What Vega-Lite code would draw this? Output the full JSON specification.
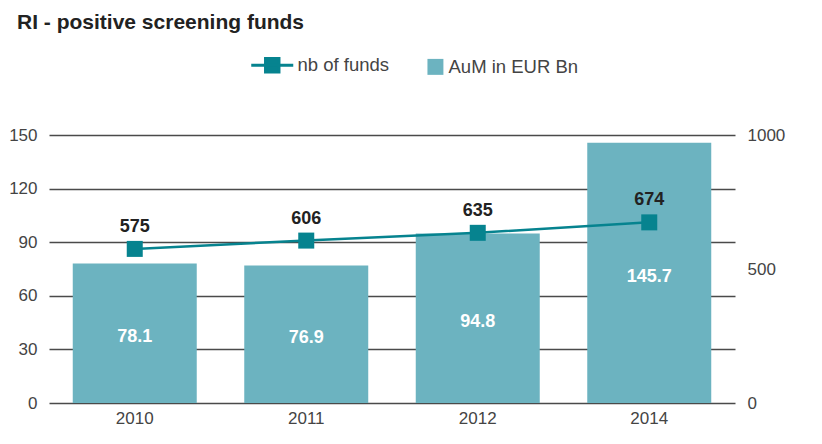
{
  "$schema": "https://vega.github.io/schema/vega-lite/v6.json",
  "autosize": "none",
  "width": 686,
  "height": 268,
  "padding": {"left": 49, "top": 135, "right": 87, "bottom": 41},
  "title": {"text": "RI - positive screening funds", "anchor": "start", "frame": "group", "dx": -32, "offset": 23, "fontSize": 21, "fontWeight": "bold", "font": "Liberation Sans", "color": "#222"},
  "config": {
    "view": {"stroke": null},
    "font": "Liberation Sans",
    "axis": {"labelFont": "Liberation Sans", "labelFontSize": 17, "labelColor": "#444", "ticks": false, "domain": false, "title": null}
  },
  "data": {"values": [
    {"year": "2010", "aum": 78.1, "funds": 575},
    {"year": "2011", "aum": 76.9, "funds": 606},
    {"year": "2012", "aum": 94.8, "funds": 635},
    {"year": "2014", "aum": 145.7, "funds": 674}
  ]},
  "encoding": {
    "x": {"field": "year", "type": "nominal", "scale": {"paddingInner": 0.277, "paddingOuter": 0.1385}, "axis": {"labelAngle": 0, "labelPadding": 7, "grid": false}}
  },
  "layer": [
    {
      "mark": {"type": "bar"},
      "encoding": {
        "y": {"field": "aum", "type": "quantitative", "scale": {"domain": [0, 150]}, "axis": {"values": [0, 30, 60, 90, 120, 150], "grid": true, "gridColor": "#4a4a4a", "gridWidth": 1.5, "labelPadding": 12}},
        "color": {"datum": "AuM in EUR Bn", "type": "nominal", "scale": {"domain": ["nb of funds", "AuM in EUR Bn"], "range": ["#06838f", "#6cb3c0"]},
          "legend": {"title": null, "orient": "none", "legendX": 214, "legendY": -79, "direction": "horizontal", "symbolSize": 1764, "labelFontSize": 18.5, "labelColor": "#444", "labelFont": "Liberation Sans", "labelOffset": 16, "columnPadding": 24,
            "encode": {"symbols": {"update": {
              "shape": {"signal": "datum.value === 'nb of funds' ? 'M-1,0H1M-0.32,-0.32H0.32V0.32H-0.32Z' : 'M0.2,-0.38H0.96V0.38H0.2Z'"},
              "fill": {"signal": "datum.value === 'nb of funds' ? '#06838f' : '#6cb3c0'"},
              "stroke": {"signal": "datum.value === 'nb of funds' ? '#06838f' : '#6cb3c0'"},
              "strokeWidth": {"signal": "datum.value === 'nb of funds' ? 3 : 0"},
              "opacity": {"value": 1},
              "fillOpacity": {"value": 1}
            }}}}}
      }
    },
    {
      "mark": {"type": "text", "color": "white", "fontWeight": "bold", "fontSize": 18, "baseline": "middle", "dy": 4},
      "encoding": {
        "y": {"field": "aum", "type": "quantitative", "scale": {"domain": [0, 300]}, "axis": null},
        "text": {"field": "aum", "type": "quantitative", "format": ".1f"}
      }
    },
    {
      "mark": {"type": "line", "strokeWidth": 2.5, "point": {"shape": "square", "size": 256, "filled": true, "opacity": 1}},
      "encoding": {
        "y": {"field": "funds", "type": "quantitative", "scale": {"domain": [0, 1000]}, "axis": {"orient": "right", "values": [0, 500, 1000], "format": "d", "grid": false, "labelPadding": 12}},
        "color": {"datum": "nb of funds", "type": "nominal"}
      }
    },
    {
      "mark": {"type": "text", "color": "#222", "fontWeight": "bold", "fontSize": 18, "baseline": "middle", "dy": -22},
      "encoding": {
        "y": {"field": "funds", "type": "quantitative", "scale": {"domain": [0, 1000]}, "axis": null},
        "text": {"field": "funds", "type": "quantitative"}
      }
    }
  ],
  "resolve": {"scale": {"y": "independent"}}
}
